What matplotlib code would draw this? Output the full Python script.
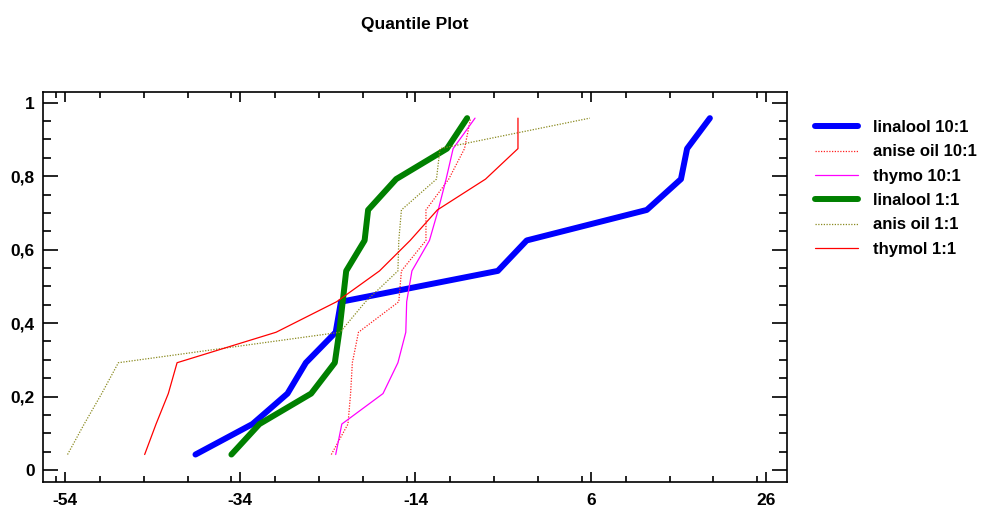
import matplotlib
matplotlib.use("Agg")
import matplotlib.pyplot as plt
from matplotlib.ticker import MultipleLocator

# quantile positions (same for every sample, n = 12)
quantile = [0.042, 0.125, 0.208, 0.292, 0.375, 0.458, 0.542, 0.625, 0.708, 0.792, 0.875, 0.958]

linalool_10 = [-39.1, -32.6, -28.6, -26.5, -23.1, -22.5, -4.6, -1.3, 12.4, 16.3, 17.0, 19.6]
anise_oil_10 = [-23.6, -21.7, -21.4, -21.2, -20.5, -15.9, -15.6, -12.8, -12.8, -10.2, -8.4, -7.7]
thymo_10 = [-23.1, -22.4, -17.7, -16.0, -15.1, -15.0, -14.4, -12.4, -11.4, -10.5, -9.7, -7.2]
linalool_1 = [-35.0, -31.8, -25.9, -23.2, -22.7, -22.3, -21.9, -19.8, -19.4, -16.2, -10.4, -8.1]
anis_oil_1 = [-53.7, -51.8, -49.8, -47.9, -22.6, -19.7, -16.0, -15.9, -15.6, -11.6, -11.2, 5.9]
thymol_1 = [-44.9, -43.6, -42.2, -41.2, -29.9, -23.0, -18.1, -14.6, -11.5, -6.0, -2.3, -2.3]

series_labels = ["linalool 10:1", "anise oil 10:1", "thymo 10:1",
                 "linalool 1:1", "anis oil 1:1", "thymol 1:1"]

xticks = [-54, -34, -14, 6, 26]
yticks = [0, 0.2, 0.4, 0.6, 0.8, 1]
ytick_labels = ["0", "0,2", "0,4", "0,6", "0,8", "1"]

plt.rcParams["font.family"] = ["Liberation Sans", "DejaVu Sans"]
plt.rcParams["font.weight"] = "bold"
plt.rcParams["axes.unicode_minus"] = False

fig = plt.figure(figsize=(9.82, 5.08), dpi=100)
ax = fig.add_axes([43 / 982, 1 - 481.7 / 508, (787 - 43) / 982, (481.7 - 91.7) / 508])

styles = [
    dict(color="#0000ff", lw=4.3, ls="-"),
    dict(color="#ff2020", lw=0.9, ls=(0, (1, 1.2))),
    dict(color="#ff00ff", lw=0.9, ls="-"),
    dict(color="#008000", lw=4.3, ls="-"),
    dict(color="#8a8a20", lw=0.9, ls=(0, (1, 1.2))),
    dict(color="#ff0000", lw=0.9, ls="-"),
]
data = [linalool_10, anise_oil_10, thymo_10, linalool_1, anis_oil_1, thymol_1]

for xs, st, lab in zip(data, styles, series_labels):
    ax.plot(xs, quantile, label=lab, solid_capstyle="round", **st)

ax.set_xlim(-56.5, 28.4)
ax.set_ylim(-0.032, 1.03)
ax.set_xticks(xticks)
ax.set_yticks(yticks)
ax.set_yticklabels(ytick_labels)
ax.xaxis.set_minor_locator(MultipleLocator(5))
ax.yaxis.set_minor_locator(MultipleLocator(0.05))

ax.tick_params(axis="both", which="both", direction="in", top=True, right=True,
               labelsize=12.5, width=1.2)
ax.tick_params(axis="x", which="major", length=7, pad=8)
ax.tick_params(axis="x", which="minor", length=4)
ax.tick_params(axis="y", which="major", length=11, pad=6)
ax.tick_params(axis="y", which="minor", length=6)
for lbl in ax.get_xticklabels() + ax.get_yticklabels():
    lbl.set_fontweight("bold")
for sp in ax.spines.values():
    sp.set_linewidth(1.2)

fig.text(415 / 982, 1 - 24 / 508, "Quantile Plot", ha="center", va="center",
         fontsize=12.5, fontweight="bold")

leg = fig.legend(loc="upper left", bbox_to_anchor=(815 / 982, 1 - 120 / 508),
                 frameon=False, fontsize=12, handlelength=2.6, handletextpad=0.9,
                 labelspacing=0.56, borderaxespad=0, borderpad=0)
for t in leg.get_texts():
    t.set_fontweight("bold")

fig.savefig("out.png", dpi=100)
